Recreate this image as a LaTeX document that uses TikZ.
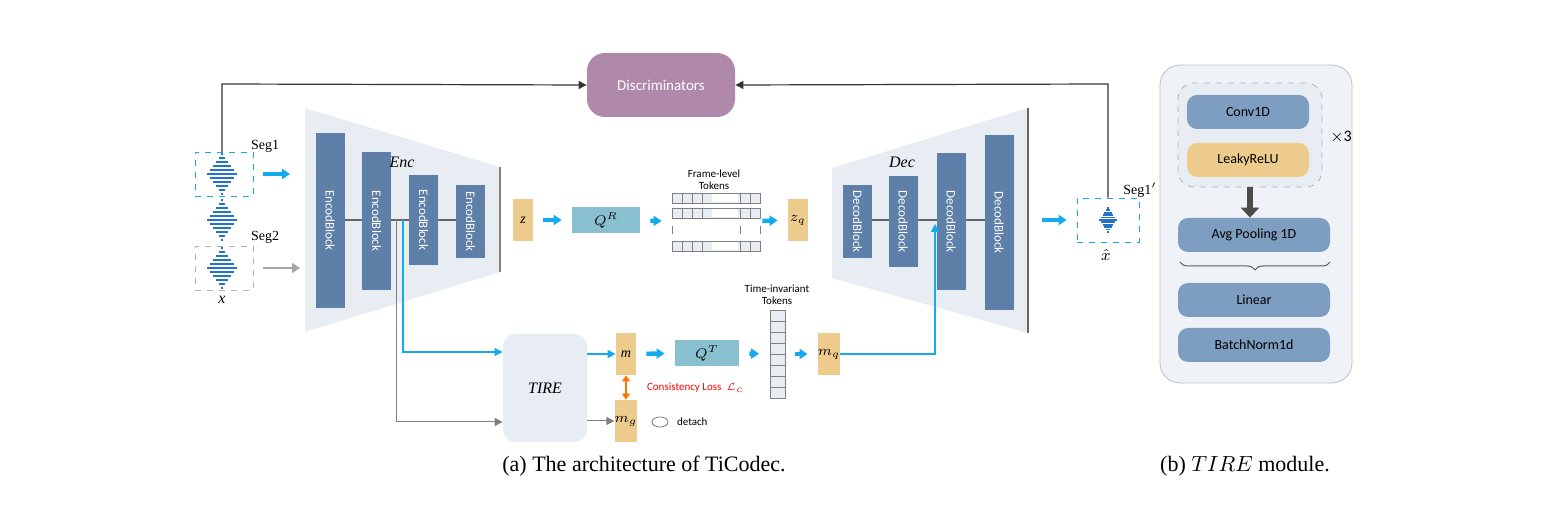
\documentclass[tikz,border=0pt]{standalone}
\usepackage{fontspec}
\setmainfont{Liberation Serif}
\newfontfamily\carl{Carlito}
\usetikzlibrary{arrows.meta,decorations.pathreplacing,shapes.geometric}
\definecolor{blk}{RGB}{94,127,168}
\definecolor{trap}{RGB}{232,236,243}
\definecolor{tan}{RGB}{236,203,140}
\definecolor{qbox}{RGB}{136,192,208}
\definecolor{disc}{RGB}{176,137,170}
\definecolor{arr}{RGB}{20,170,240}
\definecolor{wav}{RGB}{35,115,200}
\definecolor{pbl}{RGB}{125,158,192}
\tikzset{
 blkbar/.style={draw=none,fill=blk,minimum height=14.5pt,inner sep=0pt,text=white,font=\carl\fontsize{6.5}{7}\selectfont},
 tanbox/.style={fill=tan,minimum width=10pt,minimum height=21pt,inner sep=0pt,font=\fontsize{7}{8}\selectfont\itshape},
 qrbox/.style={fill=qbox,minimum height=13pt,inner sep=0pt,font=\fontsize{7}{8}\selectfont},
 bigarr/.style={-{Triangle[length=4pt,width=5pt]},arr,line width=2.2pt,shorten >=5pt,shorten <=5pt},
 thinb/.style={-{Triangle[length=4pt,width=4pt]},arr,line width=0.6pt},
 thing/.style={-{Triangle[length=4pt,width=4pt]},gray,line width=0.5pt},
 pbox/.style={fill=pbl,rounded corners=5pt,minimum width=76pt,minimum height=17pt,inner sep=0pt,font=\carl\fontsize{7}{8}\selectfont},
 lbl/.style={font=\carl\fontsize{5.5}{6}\selectfont,align=center},
}
\newcommand\mywave[3]{%
 \foreach \d/\w in {-20/1,-16/3,-12/6,-8/9,-4/12,0/15,4/12,8/9,12/6,16/3,20/1}
  \draw[wav,line width=0.9pt] (#1-\w*#3,#2+\d*#3) -- (#1+\w*#3,#2+\d*#3);}
\begin{document}
\begin{tikzpicture}[x=0.5pt,y=-0.5pt]
\useasboundingbox (0,0) rectangle (1563,507);
% discriminators
\node[fill=disc,rounded corners=9pt,minimum width=74pt,minimum height=32pt,text=white,font=\carl\fontsize{7.5}{8}\selectfont] (disc) at (661,85) {Discriminators};
% waves
\mywave{222}{174}{1}
\mywave{222}{220}{1}
\mywave{222}{268}{1}
\node[draw=arr,dashed,minimum width=29pt,minimum height=22pt] (seg1) at (224,174) {};
\node[draw=gray!60,dashed,minimum width=29pt,minimum height=22pt] (seg2) at (224,268) {};
\node[font=\fontsize{7}{8}\selectfont] (s1l) at (265,146) {Seg1};
\node[font=\fontsize{7}{8}\selectfont] (s2l) at (265,237) {Seg2};
\node[font=\fontsize{8}{8}\selectfont\itshape] (xl) at (222,300) {x};
% encoder
\draw[fill=trap,draw=none] (305,108) -- (500,167) -- (500,272) -- (305,332) -- cycle;
\draw[gray,line width=1pt] (500,167) -- (500,272);
\draw[gray!80!black,line width=0.6pt] (330,220) -- (470,220);
\node[blkbar,minimum width=87.5pt,rotate=-90] (e1) at (330,220.5) {EncodBlock};
\node[blkbar,minimum width=69pt,rotate=-90] (e2) at (376.5,221) {EncodBlock};
\node[blkbar,minimum width=45pt,rotate=-90] (e3) at (423.5,220) {EncodBlock};
\node[blkbar,minimum width=36.5pt,rotate=-90] (e4) at (470.5,221.5) {EncodBlock};
\node[font=\fontsize{8}{8}\selectfont\itshape] (enc) at (402,162) {Enc};
\coordinate (encin) at (300,174);
\coordinate (encin2) at (300,268);
\draw[bigarr] (seg1) -- (encin);
\draw[-{Triangle[length=4pt,width=5pt]},gray!70,line width=1.4pt,shorten <=5pt] (seg2.east) -- (encin2);
% top row
\node[tanbox] (z) at (523,220) {z};
\node[qrbox,minimum width=34pt] (qr) at (606,220) {$Q^R$};
\node[draw=none,minimum width=44pt,minimum height=31pt] (ftok) at (716,222) {};
\foreach \yy in {198,213,246}{
 \draw[gray,fill=trap,line width=0.4pt] (672,\yy-5) rectangle (760,\yy+5);
 \foreach \xx in {682,692,702,740,750} \draw[gray,line width=0.4pt] (\xx,\yy-5)--(\xx,\yy+5);
 \fill[white] (712,\yy-4) rectangle (738,\yy+4);}
\foreach \xx in {672,740,760} \draw[gray,line width=0.4pt] (\xx,226)--(\xx,234);
\node[lbl] (ftl) at (714,180) {Frame-level\\Tokens};
\node[tanbox,font=\fontsize{7}{8}\selectfont] (zq) at (798,220) {$z_q$};
\draw[bigarr] (z) -- (qr);
\draw[bigarr] (qr) -- (ftok);
\draw[bigarr,shorten <=1pt] (ftok) -- (zq);
% decoder
\draw[fill=trap,draw=none] (832,168) -- (1028,108) -- (1028,333) -- (832,278) -- cycle;
\draw[gray!80!black,line width=1.2pt] (1028,108) -- (1028,333);
\draw[gray!80!black,line width=0.6pt] (857,220) -- (999,220);
\node[blkbar,minimum width=36.5pt,rotate=-90] (d1) at (857.5,221.5) {DecodBlock};
\node[blkbar,minimum width=45.5pt,rotate=-90] (d2) at (903,221.5) {DecodBlock};
\node[blkbar,minimum width=68.5pt,rotate=-90] (d3) at (951,221.5) {DecodBlock};
\node[blkbar,minimum width=87.5pt,rotate=-90] (d4) at (999,222.5) {DecodBlock};
\node[font=\fontsize{8}{8}\selectfont\itshape] (dec) at (902,162) {Dec};
% output
\mywave{1108}{220}{0.6}
\node[draw=arr,dashed,minimum width=31pt,minimum height=22pt] (seg1p) at (1108,220) {};
\node[font=\fontsize{7}{8}\selectfont] (s1pl) at (1140,190) {Seg1$'$};
\node[font=\fontsize{8}{8}\selectfont] (xh) at (1106,255) {$\hat{x}$};
\coordinate (decout) at (1032,220);
\draw[bigarr] (decout) -- (seg1p);
% discriminator lines
\coordinate (tl) at (222,84);
\coordinate (tr) at (1108,84);
\draw[-{Triangle[length=4pt,width=4pt]},black!80,line width=0.6pt] (222,152) -- (tl) -- (disc.west);
\draw[-{Triangle[length=4pt,width=4pt]},black!80,line width=0.6pt] (seg1p.north) -- (tr) -- (disc.east);
% lower branch
\node[fill=trap,rounded corners=6pt,minimum width=42pt,minimum height=54pt,font=\fontsize{8}{8}\selectfont\itshape] (tire) at (545,388) {TIRE};
\coordinate (b1) at (403,220);
\coordinate (b2) at (396,220);
\draw[thinb] (b1) |- (tire.west |- 0,352);
\draw[thing] (b2) |- (tire.west |- 0,422);
\node[tanbox] (m) at (626,354) {m};
\node[tanbox,font=\fontsize{7}{8}\selectfont] (mg) at (626,421) {$m_g$};
\draw[thinb] (tire.east |- m) -- (m);
\draw[thing] (tire.east |- mg) -- (mg);
\node[qrbox,minimum width=32pt] (qt) at (707,353) {$Q^T$};
\node[minimum width=7.5pt,minimum height=44pt,inner sep=0pt] (ttok) at (777,354) {};
\foreach \k in {0,...,7} \draw[gray,fill=trap,line width=0.4pt] (770,310+11*\k) rectangle (785,321+11*\k);
\node[lbl] (ttl) at (777,295) {Time-invariant\\Tokens};
\node[tanbox,font=\fontsize{7}{8}\selectfont] (mq) at (829,354) {$m_q$};
\draw[bigarr] (m) -- (qt);
\draw[bigarr] (qt) -- (ttok);
\draw[bigarr] (ttok) -- (mq);
\coordinate (dj) at (935,224);
\draw[thinb] (mq.east) -| (dj);
\draw[{Triangle[length=3pt,width=4pt]}-{Triangle[length=3pt,width=4pt]},orange!90!red,line width=1.3pt] (m.south) -- (mg.north);
\node[text=red,font=\carl\fontsize{5.5}{6}\selectfont,anchor=west] (cl) at (640,388) {Consistency Loss~~$\mathcal{L}_c$};
\node[draw=gray,ellipse,inner sep=0pt,minimum width=8pt,minimum height=5pt] (det) at (660,422) {};
\node[font=\carl\fontsize{5.5}{6}\selectfont,anchor=west] (dtl) at (670,422) {detach};
% captions
\node[font=\fontsize{11}{12}\selectfont] (capa) at (644,466) {(a) The architecture of TiCodec.};
\node[font=\fontsize{11}{12}\selectfont] (capb) at (1245,466) {(b) $TIRE$ module.};
% TIRE module panel
\node[draw=gray!50,fill=trap!70,rounded corners=10pt,minimum width=96pt,minimum height=159pt] (panel) at (1256,224) {};
\node[draw=gray!60,dashed,fill=trap,rounded corners=8pt,minimum width=72pt,minimum height=52pt] (grp) at (1250,135) {};
\node[pbox,minimum width=61pt] (conv) at (1248,112) {Conv1D};
\node[pbox,minimum width=61pt,fill=tan] (leaky) at (1248,160) {LeakyReLU};
\node[font=\carl\fontsize{8}{9}\selectfont] (x3) at (1341,137) {$\times$3};
\node[pbox] (avg) at (1254,235) {Avg Pooling 1D};
\node[pbox] (lin) at (1254,300) {Linear};
\node[pbox] (bn) at (1254,345) {BatchNorm1d};
\draw[-{Triangle[length=5pt,width=9pt]},gray!60!black,line width=3pt] (grp.south) -- (grp.south |- avg.north);
\draw[decorate,decoration={brace,mirror,amplitude=4pt},gray!70!black,line width=0.5pt] (1180,262) -- (1330,262);
\end{tikzpicture}
\end{document}
